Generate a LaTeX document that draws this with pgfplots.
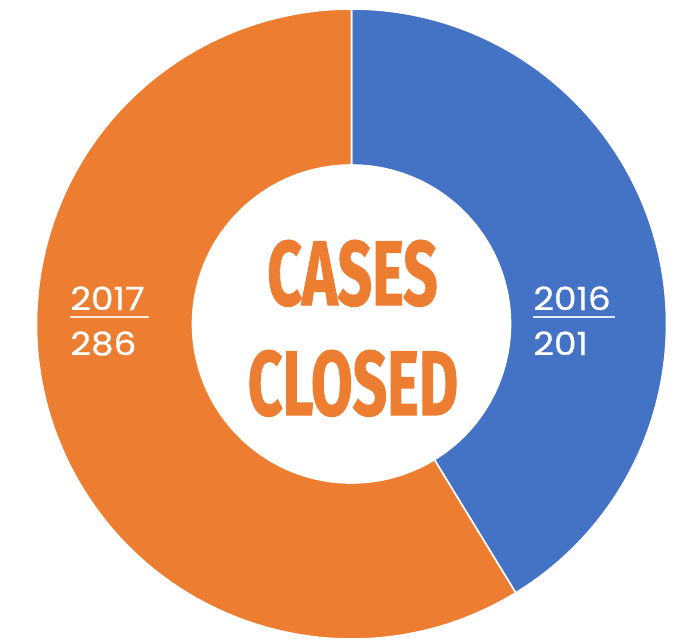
\documentclass[border=0pt]{standalone}
\usepackage{pgfplots}
\pgfplotsset{compat=1.18}
\usepackage{pgfplotstable}
\usepackage{fontspec}
\setmainfont{Poppins}
\newfontfamily\labfont{Poppins}[FakeBold=0.6]
\newfontfamily\condfont{Fira Sans}[BoldFeatures={FakeBold=1.5}]
\definecolor{cblue}{HTML}{4472C4}
\definecolor{corange}{HTML}{ED7D31}

\pgfplotstableread{
year value
2016 201
2017 286
}\casedata

\begin{document}%
\begin{tikzpicture}
\pgfplotstablegetelem{0}{value}\of\casedata \let\va\pgfplotsretval
\pgfplotstablegetelem{1}{value}\of\casedata \let\vb\pgfplotsretval
\pgfplotstablegetelem{0}{year}\of\casedata \let\ya\pgfplotsretval
\pgfplotstablegetelem{1}{year}\of\casedata \let\yb\pgfplotsretval
\pgfmathsetmacro\angB{90-360*(\va/(\va+\vb))}
\def\Ro{157.5pt}
\def\Ri{79.5pt}
\begin{axis}[x=0.5pt,y=0.5pt,xmin=0,xmax=686,ymin=0,ymax=638,y dir=reverse,
  hide axis,clip=false,scale only axis]
\path (axis cs:351.5,324) coordinate (c);
\path (axis cs:0,638) coordinate (bl);
\path (axis cs:686,0) coordinate (tr);
\path[fill=cblue,draw=white,line width=0.8pt]
  ([shift={(90:\Ro)}]c) arc[start angle=90,end angle=\angB,radius=\Ro]
  -- ([shift={(\angB:\Ri)}]c) arc[start angle=\angB,end angle=90,radius=\Ri] -- cycle;
\path[fill=corange,draw=white,line width=0.8pt]
  ([shift={(\angB:\Ro)}]c) arc[start angle=\angB,end angle=-270,radius=\Ro]
  -- ([shift={(-270:\Ri)}]c) arc[start angle=-270,end angle=\angB,radius=\Ri] -- cycle;
% labels
\node[anchor=base west,inner sep=0pt,text=white,font=\labfont\fontsize{16}{18}\selectfont] (y16) at (axis cs:533,310) {\scalebox{1.12}[1]{\ya}};
\draw[white!85!cblue,line width=0.75pt] ([yshift=-3.5pt]y16.base west) -- ([yshift=-3.5pt,xshift=2pt]y16.base east);
\node[anchor=base west,inner sep=0pt,text=white,font=\labfont\fontsize{16}{18}\selectfont] at (axis cs:533,355) {\scalebox{1.12}[1]{\va}};
\node[anchor=base west,inner sep=0pt,text=white,font=\labfont\fontsize{16}{18}\selectfont] (y17) at (axis cs:70,310) {\scalebox{1.12}[1]{\yb}};
\draw[white!85!corange,line width=0.75pt] ([yshift=-3.5pt]y17.base west) -- ([yshift=-3.5pt,xshift=2pt]y17.base east);
\node[anchor=base west,inner sep=0pt,text=white,font=\labfont\fontsize{16}{18}\selectfont] at (axis cs:70,355) {\scalebox{1.12}[1]{\vb}};
% centre title
\node[anchor=base,inner sep=0pt,text=corange,font=\condfont\bfseries\fontsize{45.7}{50}\selectfont] at (axis cs:352.5,305) {\scalebox{0.66}[1]{CASES}};
\node[anchor=base,inner sep=0pt,text=corange,font=\condfont\bfseries\fontsize{45.7}{50}\selectfont] at (axis cs:353,415) {\scalebox{0.66}[1]{CLOSED}};
\end{axis}
\pgfresetboundingbox
\path (bl) rectangle (tr);
\end{tikzpicture}%
\end{document}
